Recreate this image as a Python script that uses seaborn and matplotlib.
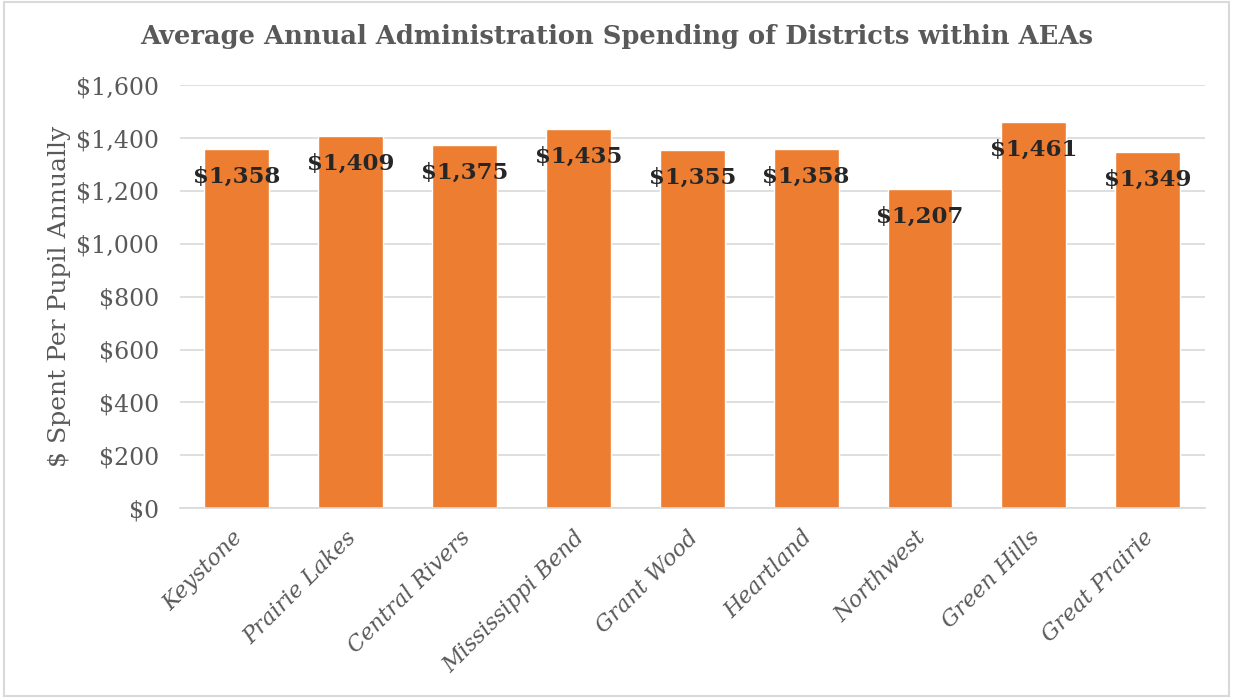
import pandas as pd
import matplotlib.pyplot as plt
import matplotlib.transforms as mtransforms
import seaborn as sns
from matplotlib.ticker import FuncFormatter, MultipleLocator

# Data
aeas = ['Keystone', 'Prairie Lakes', 'Central Rivers', 'Mississippi Bend',
        'Grant Wood', 'Heartland', 'Northwest', 'Green Hills', 'Great Prairie']
spending = [1358, 1409, 1375, 1435, 1355, 1358, 1207, 1461, 1349]

df = pd.DataFrame({'aea': aeas, 'spending': spending})

sns.set_style('white')
plt.rcParams['font.family'] = ['DejaVu Serif']

fig = plt.figure(figsize=(12.33, 6.98), dpi=100)
ax = fig.add_axes([0.146, 0.272, 0.831, 0.606])

sns.barplot(data=df, x='aea', y='spending', color='#ED7D31', width=0.57,
            saturation=1, ax=ax)

# value labels just inside the top of each bar
for i, v in enumerate(spending):
    ax.annotate(f'${v:,}', xy=(i, v), xytext=(0, -20), textcoords='offset points',
                ha='center', va='center', fontsize=16.5, fontweight='bold',
                color='#262626')

ax.set_ylim(0, 1600)
ax.yaxis.set_major_locator(MultipleLocator(200))
ax.yaxis.set_major_formatter(FuncFormatter(lambda y, _: f'${y:,.0f}'))
ax.grid(axis='y', color='#D9D9D9', linewidth=1.2)
ax.set_axisbelow(True)
for side in ['top', 'right', 'left']:
    ax.spines[side].set_visible(False)
ax.spines['bottom'].set_color('#D9D9D9')
ax.spines['bottom'].set_linewidth(1.2)
ax.tick_params(axis='y', length=0, colors='#595959', labelsize=17, pad=15)
ax.tick_params(axis='x', length=0, colors='#595959', labelsize=16, pad=6)

# rotated italic category labels, nudged a bit left/down like the original
offset = mtransforms.ScaledTranslation(-0.05, -0.1, fig.dpi_scale_trans)
for lbl in ax.get_xticklabels():
    lbl.set_rotation(45)
    lbl.set_ha('right')
    lbl.set_rotation_mode('anchor')
    lbl.set_fontstyle('italic')
    lbl.set_transform(lbl.get_transform() + offset)

ax.set_xlabel('')
ax.set_ylabel('$ Spent Per Pupil Annually', fontsize=18, color='#595959', labelpad=4)
fig.suptitle('Average Annual Administration Spending of Districts within AEAs',
             x=0.5, y=0.965, fontsize=18.5, fontweight='bold', color='#595959')

# light border around the chart area
fig.patches.append(plt.Rectangle((0.003, 0.003), 0.994, 0.994, transform=fig.transFigure,
                                 fill=False, edgecolor='#D9D9D9', linewidth=1.5))

fig.savefig('out.png', dpi=100)
